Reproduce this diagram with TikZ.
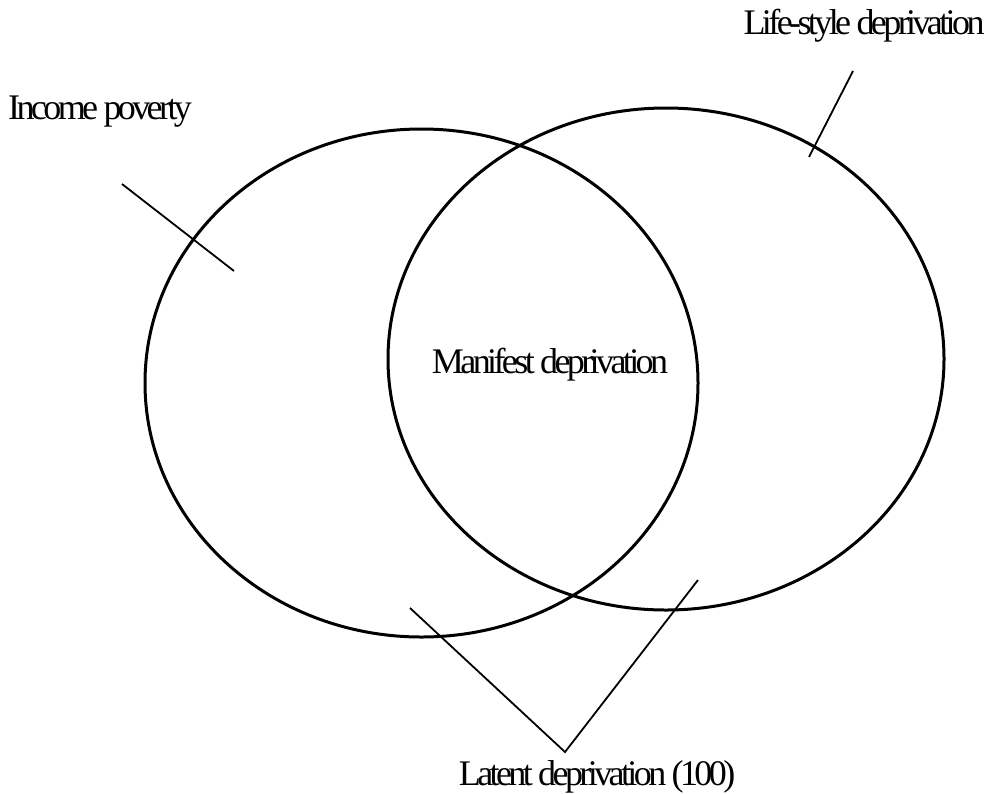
\documentclass[tikz,border=0pt]{standalone}
\usepackage{fontspec}
\setmainfont{Liberation Serif}[LetterSpace=-10]
\begin{document}
\begin{tikzpicture}[x=1pt,y=-1pt,
  circ/.style={line width=3pt},
  pointer/.style={line width=1.8pt},
  lbl/.style={inner sep=0pt, font=\fontsize{36}{40}\selectfont}]
\useasboundingbox (0,0) rectangle (990,793);
% ellipses
\draw[circ] (421.5,383) ellipse [x radius=276.5, y radius=254];
\draw[circ] (666,359) ellipse [x radius=278, y radius=251];
% labels
\node[lbl, anchor=base] (inc) at (100,119) {Income poverty};
\node[lbl, anchor=base] (life) at (864,34) {Life-style deprivation};
\node[lbl, anchor=base] (man) at (550,373) {Manifest deprivation};
\node[lbl, anchor=base] (lat) at (597,785) {Latent deprivation (100)};
% pointer ends
\coordinate (incA) at (122,184);
\coordinate (incB) at (234,271);
\coordinate (lifeA) at (853,71);
\coordinate (lifeB) at (809,157);
\coordinate (latV) at (565,752);
\coordinate (latL) at (410,608);
\coordinate (latR) at (698,580);
\draw[pointer] (incA) -- (incB);
\draw[pointer] (lifeA) -- (lifeB);
\draw[pointer] (latL) -- (latV) -- (latR);
\end{tikzpicture}
\end{document}
